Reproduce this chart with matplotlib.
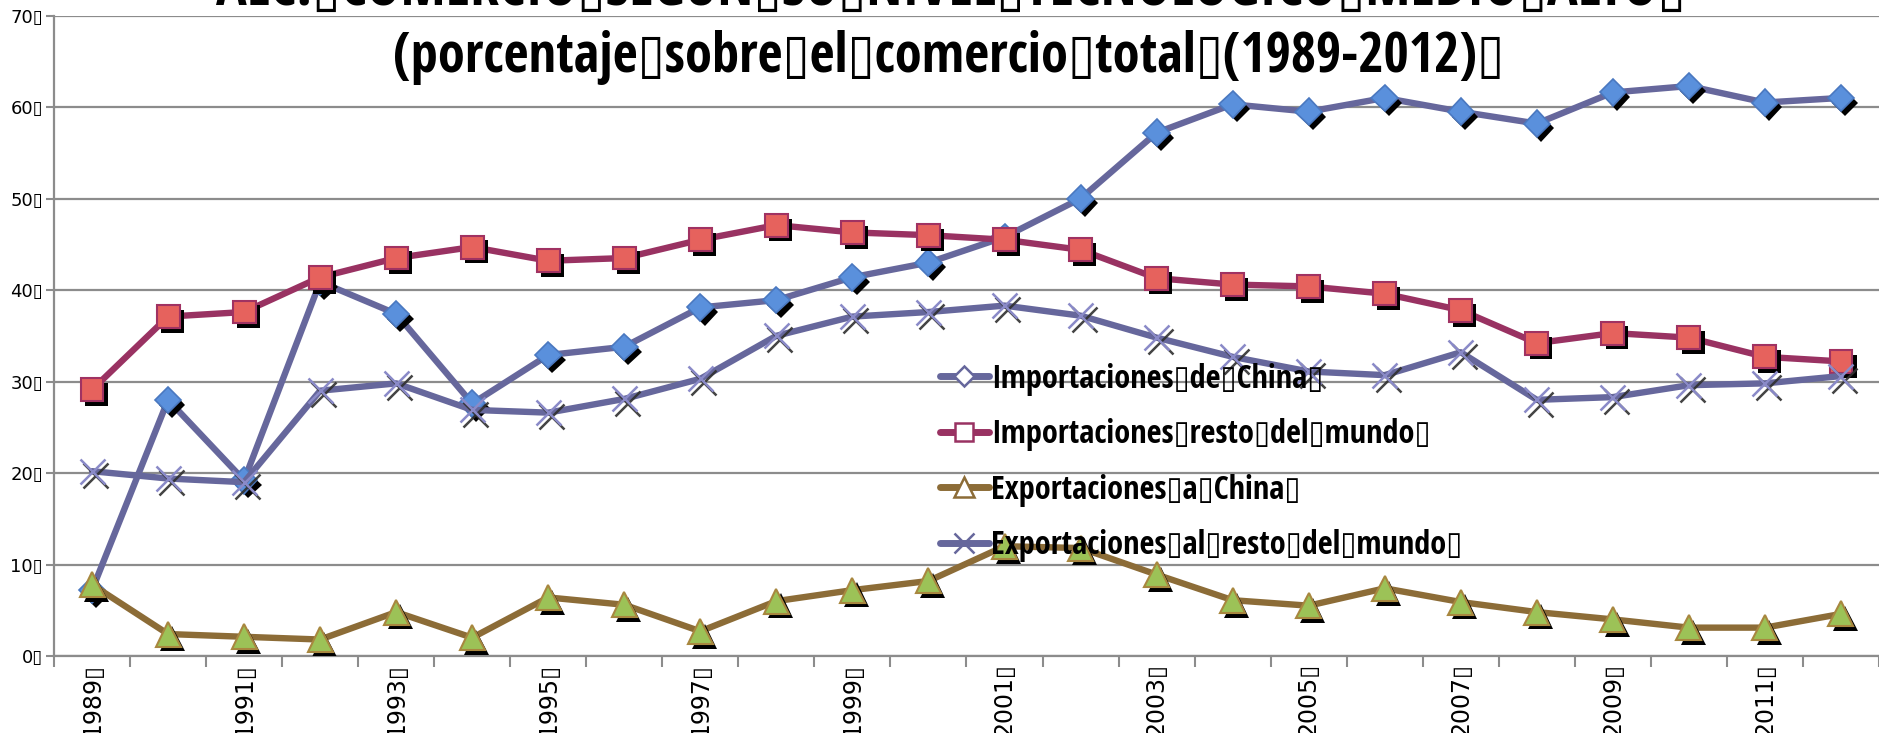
import matplotlib
matplotlib.use('Agg')
import matplotlib.pyplot as plt
import matplotlib.patheffects as pe
from matplotlib.lines import Line2D
from matplotlib import font_manager as fm
import numpy as np

# ---------------- data ----------------
years = [str(y) for y in range(1989, 2013)]
imp_china = [7.2, 28.0, 19.2, 40.9, 37.4, 27.6, 32.9, 33.8, 38.1, 38.9, 41.4, 43.0,
             45.8, 50.0, 57.2, 60.3, 59.5, 61.0, 59.5, 58.2, 61.6, 62.3, 60.5, 61.0]
imp_resto = [29.1, 37.1, 37.6, 41.4, 43.5, 44.7, 43.2, 43.5, 45.5, 47.1, 46.3, 46.0,
             45.5, 44.4, 41.3, 40.6, 40.4, 39.6, 37.8, 34.2, 35.3, 34.8, 32.7, 32.2]
exp_china = [7.8, 2.4, 2.1, 1.8, 4.8, 2.0, 6.4, 5.6, 2.7, 6.0, 7.2, 8.2,
             12.0, 11.8, 8.9, 6.1, 5.5, 7.4, 5.9, 4.8, 4.0, 3.1, 3.1, 4.6]
exp_resto = [20.2, 19.4, 19.0, 29.0, 29.8, 26.9, 26.6, 28.1, 30.3, 35.0, 37.1, 37.6,
             38.3, 37.2, 34.8, 32.7, 31.1, 30.7, 33.2, 28.0, 28.3, 29.6, 29.8, 30.6]
series_labels = ["Importaciones\u25afde\u25afChina\u25af",
                 "Importaciones\u25afresto\u25afdel\u25afmundo\u25af",
                 "Exportaciones\u25afa\u25afChina\u25af",
                 "Exportaciones\u25afal\u25afresto\u25afdel\u25afmundo\u25af"]
title_line1 = "ALC.\u25afCOMERCIO\u25afSEGÚN\u25afSU\u25afNIVEL\u25afTECNOLÓGICO\u25afMEDIO\u25afALTO\u25af"
title_line2 = "(porcentaje\u25afsobre\u25afel\u25afcomercio\u25aftotal\u25af(1989-2012)\u25af"
yticks = [0, 10, 20, 30, 40, 50, 60, 70]
BOX = "\u25af"

# ---------------- fonts ----------------
def _wnum(w):
    if isinstance(w, (int, float)):
        return w
    return fm.weight_dict.get(w, 400)

def _snum(s):
    if isinstance(s, (int, float)):
        return s
    return fm.stretch_dict.get(s, 500)

best = None
pref_names = ['Noto Sans', 'Open Sans', 'Roboto', 'Liberation Sans Narrow', 'Lato', 'DejaVu Sans']
for f in fm.fontManager.ttflist:
    if _wnum(f.weight) < 600 or f.style != 'normal':
        continue
    st = _snum(f.stretch)
    narrow_name = ('Narrow' in f.name) or ('Condensed' in f.name) or ('Cond' in f.name)
    if st >= 500 and not narrow_name:
        continue
    eff = st if st < 500 else 350
    base = next((i for i, p in enumerate(pref_names) if f.name.startswith(p)), len(pref_names))
    score = abs(eff - 400) + base * 15
    if best is None or score < best[0]:
        best = (score, f.name, eff)

if best is not None:
    FONT = dict(family=[best[1], 'DejaVu Sans'], weight='bold', stretch=int(best[2]))
else:
    FONT = dict(family=['Lato', 'DejaVu Sans'], weight='bold')

# ---------------- styles ----------------
SLATE = '#66679c'
MAROON = '#993262'
BROWN = '#8c6c37'
GRID = '#8c8c8c'

W, H = 1879, 733
fig = plt.figure(figsize=(W / 100, H / 100), dpi=100)
fig.patch.set_facecolor('white')
Y0, Y70 = 656, 15.6
ax = fig.add_axes([54 / W, 1 - Y0 / H, 1 - 54 / W, (Y0 - Y70) / H])
r = fig.canvas.get_renderer()


def fit_size(text, size_h, target_w, wh=0.5):
    t = fig.text(0, 0, text, fontsize=size_h, **FONT)
    w = t.get_window_extent(r).width
    t.remove()
    size_w = size_h * target_w / w
    return float(size_h ** wh * size_w ** (1 - wh))


x = np.arange(len(years))
ax.set_xlim(-0.5, len(years) - 0.5)
ax.set_ylim(0, 70)

# grid & spines
ax.set_yticks(yticks)
ax.set_yticklabels([f"{v}{BOX}" for v in yticks], fontsize=13)
ax.yaxis.grid(True, color=GRID, lw=1.6)
ax.set_axisbelow(True)
for s in ['top', 'right']:
    ax.spines[s].set_visible(False)
for s in ['left', 'bottom']:
    ax.spines[s].set_color(GRID)
    ax.spines[s].set_linewidth(1.6)
ax.tick_params(axis='y', length=6, width=1.5, color=GRID, pad=2)

major = list(range(0, len(years), 2))
ax.set_xticks(major)
ax.set_xticklabels([years[i] + BOX for i in major], rotation=90, fontsize=17,
                   va='top', ha='center')
ax.set_xticks(np.arange(-0.5, len(years), 1), minor=True)
ax.tick_params(axis='x', which='major', length=0, pad=5)
ax.tick_params(axis='x', which='minor', length=8, width=1.5, color=GRID)

shadow_fill = [pe.SimplePatchShadow(offset=(3, -3.5), shadow_rgbFace='black', alpha=1.0), pe.Normal()]
shadow_line = [pe.SimpleLineShadow(offset=(2.5, -3), shadow_color='#303030', alpha=0.9, linewidth=1.8), pe.Normal()]

specs = [
    (imp_china, SLATE, 'D', 13.5, '#5a90dc', '#4a78c0', 1.2),
    (imp_resto, MAROON, 's', 16.5, '#e6625d', '#a03262', 1.5),
    (exp_china, BROWN, '^', 18, '#9cc257', '#a8873f', 1.5),
    (exp_resto, SLATE, 'x', 18, '#8a8ac8', '#8a8ac8', 1.8),
]
for i, (vals, lc, m, ms, fc, ec, mew) in enumerate(specs):
    z = 3 + i
    ax.plot(x, vals, color=lc, lw=4.6, solid_capstyle='round', solid_joinstyle='round', zorder=z)
    ax.plot(x, vals, ls='none', marker=m, markersize=ms, mfc=fc, mec=ec, mew=mew,
            zorder=z + 0.5, path_effects=shadow_line if m == 'x' else shadow_fill)

# legend
handles = []
leg_specs = [(SLATE, 'D', 10, SLATE), (MAROON, 's', 13, MAROON), (BROWN, '^', 14, BROWN), (SLATE, 'x', 15, SLATE)]
for lc, m, ms, ec in leg_specs:
    handles.append(Line2D([], [], color=lc, lw=5, solid_capstyle='round', marker=m, markersize=ms,
                          mfc='white', mec=ec, mew=1.8))
LFS = fit_size(series_labels[0], 23, 337)
lfs_px = LFS * 100 / 72
tmp = fig.text(0, 0, series_labels[0], fontsize=LFS, **FONT)
row_h = tmp.get_window_extent(r).height
tmp.remove()
PITCH = 55.5
leg = fig.legend(handles, series_labels, loc='upper left',
                 bbox_to_anchor=(940 / W, 1 - (379 - row_h / 2) / H),
                 bbox_transform=fig.transFigure, frameon=False, borderpad=0, borderaxespad=0,
                 handlelength=49 / lfs_px, handletextpad=2 / lfs_px,
                 labelspacing=(PITCH - row_h) / lfs_px,
                 prop=dict(size=LFS, **FONT))
leg.set_zorder(20)

# titles
s2 = fit_size(title_line2, 37, 1129, wh=0.2)
s1 = fit_size(title_line1, 37, 1513, wh=0.2)
fig.text(948.5 / W, 1 - 72 / H, title_line2, ha='center', va='baseline', fontsize=s2, **FONT)
fig.text(951 / W, 1 - 5 / H, title_line1, ha='center', va='baseline', fontsize=s1, **FONT)

fig.savefig('out.png', dpi=100, facecolor='white')
